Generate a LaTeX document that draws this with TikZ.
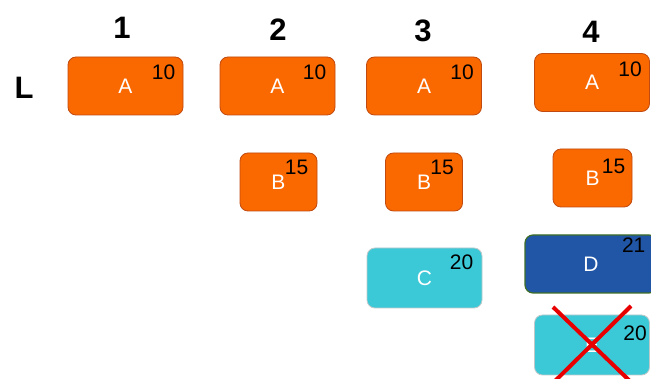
\documentclass[tikz,border=0pt]{standalone}
\usepackage{fontspec}
\setmainfont{Liberation Sans}
\definecolor{boxorange}{HTML}{FA6800}
\definecolor{edgeorange}{HTML}{C04A10}
\definecolor{boxcyan}{HTML}{3CC9D7}
\definecolor{edgecyan}{HTML}{BFC8CA}
\definecolor{boxblue}{HTML}{2155A6}
\definecolor{edgegreen}{HTML}{3E6E26}
\definecolor{crossred}{HTML}{E80000}
\begin{document}
\begin{tikzpicture}[x=1pt,y=-1pt,
  heading/.style={font=\fontsize{31}{31}\selectfont\bfseries, inner sep=0pt},
  block/.style={rounded corners=8pt, line width=0.8pt, inner sep=0pt,
    text=white, font=\fontsize{21}{21}\selectfont},
  orangeblock/.style={block, fill=boxorange, draw=edgeorange},
  cyanblock/.style={block, fill=boxcyan, draw=edgecyan},
  blueblock/.style={block, fill=boxblue, draw=edgegreen, line width=1.2pt},
  wide/.style={minimum width=115pt, minimum height=58pt},
  narrow/.style={minimum width=77pt, minimum height=58pt},
  weight/.style={font=\fontsize{21}{21}\selectfont, inner sep=0pt, anchor=north east},
  strike/.style={crossred, line width=4pt}
]
\useasboundingbox (0,0) rectangle (651,379);

% column and row headings
\node[heading] (h1) at (122,28) {1};
\node[heading] (h2) at (278,30) {2};
\node[heading] (h3) at (423,31) {3};
\node[heading] (h4) at (591,32) {4};
\node[heading] (rowL) at (24,88) {L};

% column 1
\node[orangeblock, wide] (a1) at (125.5,86) {A};
\node[weight] (a1w) at ([xshift=-8pt,yshift=-8pt]a1.north east) {10};

% column 2
\node[orangeblock, wide] (a2) at (277.5,86) {A};
\node[weight] (a2w) at ([xshift=-9pt,yshift=-8pt]a2.north east) {10};
\node[orangeblock, narrow] (b2) at (278.5,182) {B};
\node[weight] (b2w) at ([xshift=-9pt,yshift=-7pt]b2.north east) {15};

% column 3
\node[orangeblock, wide] (a3) at (424,86) {A};
\node[weight] (a3w) at ([xshift=-8pt,yshift=-8pt]a3.north east) {10};
\node[orangeblock, narrow] (b3) at (424,182) {B};
\node[weight] (b3w) at ([xshift=-9pt,yshift=-7pt]b3.north east) {15};
\node[cyanblock, wide, minimum height=60pt] (c3) at (424.5,278) {C};
\node[weight] (c3w) at ([xshift=-9pt,yshift=-7pt]c3.north east) {20};

% column 4
\node[orangeblock, wide] (a4) at (592,82.5) {A};
\node[weight] (a4w) at ([xshift=-8pt,yshift=-9pt]a4.north east) {10};
\node[orangeblock, narrow, minimum width=79pt] (b4) at (592.5,178) {B};
\node[weight] (b4w) at ([xshift=-7pt,yshift=-10pt]b4.north east) {15};
\node[blueblock, minimum width=132pt, minimum height=58pt] (d4) at (591,264) {D};
\node[weight] (d4w) at ([xshift=-12pt,yshift=-3pt]d4.north east) {21};
\node[cyanblock, wide, minimum height=60pt] (e4) at (592,345) {E};
\node[weight] (e4w) at ([xshift=-3pt,yshift=-11pt]e4.north east) {20};

% struck-out block
\coordinate (x1) at (553,307);
\coordinate (x2) at (632,383);
\coordinate (x3) at (631,306);
\coordinate (x4) at (553,383);
\draw[strike] (x1) -- (x2);
\draw[strike] (x3) -- (x4);
\end{tikzpicture}
\end{document}
